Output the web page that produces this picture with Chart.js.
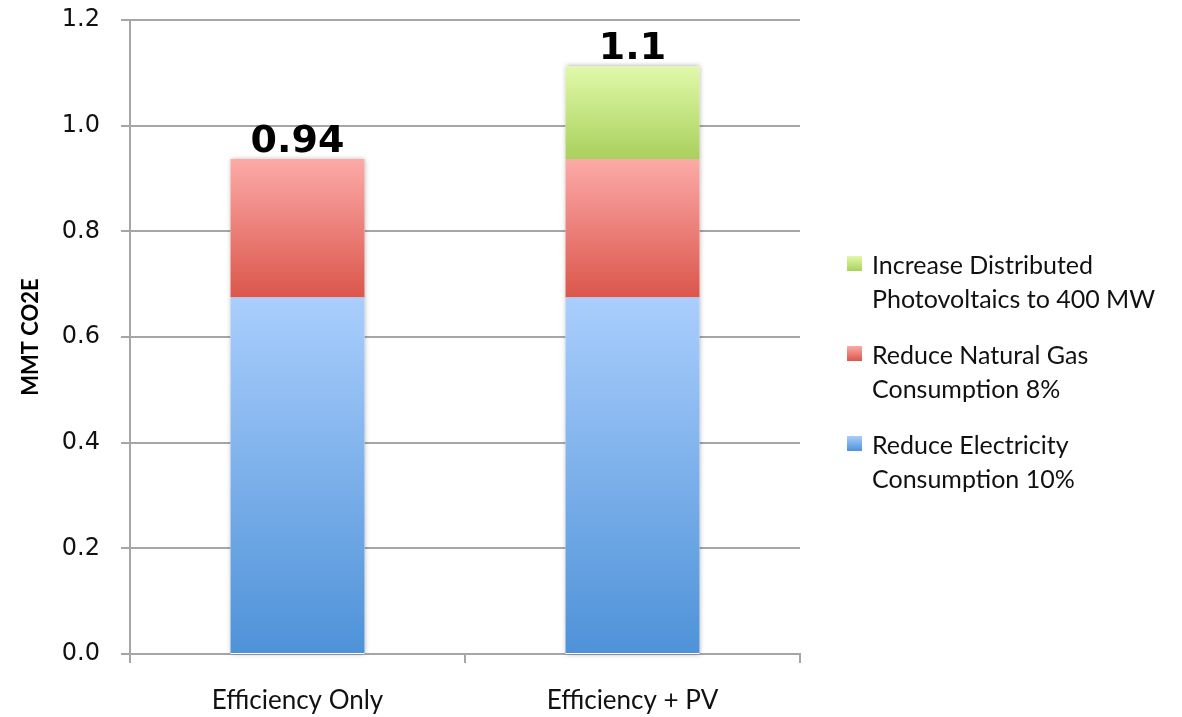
<!DOCTYPE html>
<html>
<head>
<meta charset="utf-8">
<script src="https://cdn.jsdelivr.net/npm/chart.js@4"></script>
<style>
  html, body { margin: 0; padding: 0; background: #fff; }
  #wrap { position: relative; width: 1182px; height: 717px; }
  #chart { position: absolute; left: 0; top: 0; }
  #legend { position: absolute; left: 847px; top: 247px; font-family: Lato, "Open Sans", sans-serif; font-size: 25px; color: #111; }
  .item { display: flex; align-items: flex-start; margin-bottom: 22px; }
  .swatch { width: 15px; height: 15px; margin-top: 9px; margin-right: 10px; flex: none; }
  .text { line-height: 34px; }
</style>
</head>
<body>
<div id="wrap">
  <canvas id="chart" width="1182" height="717"></canvas>
  <div id="legend"></div>
</div>
<script>
// Scenarios on the x axis
const categories = ['Efficiency Only', 'Efficiency + PV'];

// Emission reductions per measure (MMT CO2E)
const electricity = [0.675, 0.675];
const naturalGas = [0.262, 0.262];
const photovoltaics = [null, 0.175];

// Totals printed above each stack
const totalLabels = ['0.94', '1.1'];

// Y axis ticks
const yTicks = [0.0, 0.2, 0.4, 0.6, 0.8, 1.0, 1.2];

const seriesStack = [electricity, naturalGas, photovoltaics];

// Top (light) and bottom (dark) gradient colours for each measure
const shades = [
  ['#aacefd', '#4e92d8'],
  ['#fcaaa8', '#db564b'],
  ['#e1f9aa', '#a9d05c']
];

function segmentGradient(ctx) {
  const chart = ctx.chart;
  const area = chart.chartArea;
  const c = shades[ctx.datasetIndex];
  if (!area || ctx.type !== 'data') return c[1];
  const y = chart.scales.y;
  let base = 0;
  for (let k = 0; k < ctx.datasetIndex; k++) base += seriesStack[k][ctx.dataIndex] || 0;
  const v = seriesStack[ctx.datasetIndex][ctx.dataIndex] || 0;
  const top = y.getPixelForValue(base + v);
  const bottom = y.getPixelForValue(base);
  if (!isFinite(top) || !isFinite(bottom) || top === bottom) return c[1];
  const g = chart.ctx.createLinearGradient(0, top, 0, bottom);
  g.addColorStop(0, c[0]);
  g.addColorStop(1, c[1]);
  return g;
}

function swatchGradient(i) {
  return 'linear-gradient(to bottom, ' + shades[i][0] + ', ' + shades[i][1] + ')';
}

// Soft shadow behind each full stack
const stackShadow = {
  id: 'stackShadow',
  beforeDatasetsDraw(chart) {
    const ctx = chart.ctx;
    const y = chart.scales.y;
    const meta = chart.getDatasetMeta(0);
    ctx.save();
    ctx.shadowColor = 'rgba(0,0,0,0.35)';
    ctx.shadowBlur = 5;
    ctx.fillStyle = '#ffffff';
    categories.forEach((_, j) => {
      const bar = meta.data[j];
      let total = 0;
      seriesStack.forEach(s => total += s[j] || 0);
      const top = y.getPixelForValue(total);
      const bottom = y.getPixelForValue(0);
      ctx.fillRect(bar.x - bar.width / 2, top, bar.width, bottom - top);
    });
    ctx.restore();
  }
};

// Totals above stacks
const stackTotals = {
  id: 'stackTotals',
  afterDatasetsDraw(chart) {
    const ctx = chart.ctx;
    const y = chart.scales.y;
    const meta = chart.getDatasetMeta(0);
    ctx.save();
    ctx.font = 'bold 38px "DejaVu Sans", sans-serif';
    ctx.fillStyle = '#000';
    ctx.textAlign = 'center';
    ctx.textBaseline = 'alphabetic';
    categories.forEach((_, j) => {
      let total = 0;
      seriesStack.forEach(s => total += s[j] || 0);
      ctx.fillText(totalLabels[j], meta.data[j].x, y.getPixelForValue(total) - 7);
    });
    ctx.restore();
  }
};

const legendNames = [
  ['Reduce Electricity', 'Consumption 10%'],
  ['Reduce Natural Gas', 'Consumption 8%'],
  ['Increase Distributed', 'Photovoltaics to 400 MW']
];

const chart = new Chart(document.getElementById('chart'), {
  type: 'bar',
  data: {
    labels: categories,
    datasets: seriesStack.map((s, i) => ({
      label: legendNames[i].join(' '),
      data: s,
      backgroundColor: segmentGradient,
      borderWidth: 0,
      barPercentage: 0.4,
      categoryPercentage: 1.0
    }))
  },
  options: {
    responsive: false,
    animation: false,
    layout: { padding: { top: 20, right: 382, left: 0, bottom: 0 } },
    plugins: { legend: { display: false }, tooltip: { enabled: false } },
    scales: {
      x: {
        stacked: true,
        grid: { offset: true, drawOnChartArea: false, drawTicks: true, tickLength: 9, color: '#a6a6a6', lineWidth: 2 },
        border: { color: '#a6a6a6', width: 2 },
        ticks: { color: '#111', font: { family: 'Lato, "Open Sans", sans-serif', size: 26 }, padding: 22 },
        afterFit(scale) { scale.height = 63; }
      },
      y: {
        stacked: true,
        min: 0,
        max: 1.2,
        afterBuildTicks(scale) { scale.ticks = yTicks.map(v => ({ value: v })); },
        grid: { color: '#a6a6a6', lineWidth: 2, tickLength: 9 },
        border: { color: '#a6a6a6', width: 2 },
        ticks: {
          color: '#111',
          font: { family: '"DejaVu Sans", sans-serif', size: 24 },
          padding: 21,
          callback: v => Number(v).toFixed(1)
        },
        title: {
          display: true,
          text: 'MMT CO2E',
          color: '#000',
          font: { family: 'Lato, "Open Sans", sans-serif', size: 22, weight: 'bold' },
          padding: { top: 18, bottom: 0 }
        },
        afterFit(scale) {
          scale.width = 130;
          scale.paddingTop = 0;
          scale.paddingBottom = 0;
        }
      }
    }
  },
  plugins: [stackShadow, stackTotals]
});

// Legend listed top-down in reverse stack order
const legend = document.getElementById('legend');
[2, 1, 0].forEach(i => {
  const item = document.createElement('div');
  item.className = 'item';
  const sw = document.createElement('div');
  sw.className = 'swatch';
  sw.style.background = swatchGradient(i);
  const tx = document.createElement('div');
  tx.className = 'text';
  tx.innerHTML = legendNames[i].join('<br>');
  item.appendChild(sw);
  item.appendChild(tx);
  legend.appendChild(item);
});
</script>
</body>
</html>
